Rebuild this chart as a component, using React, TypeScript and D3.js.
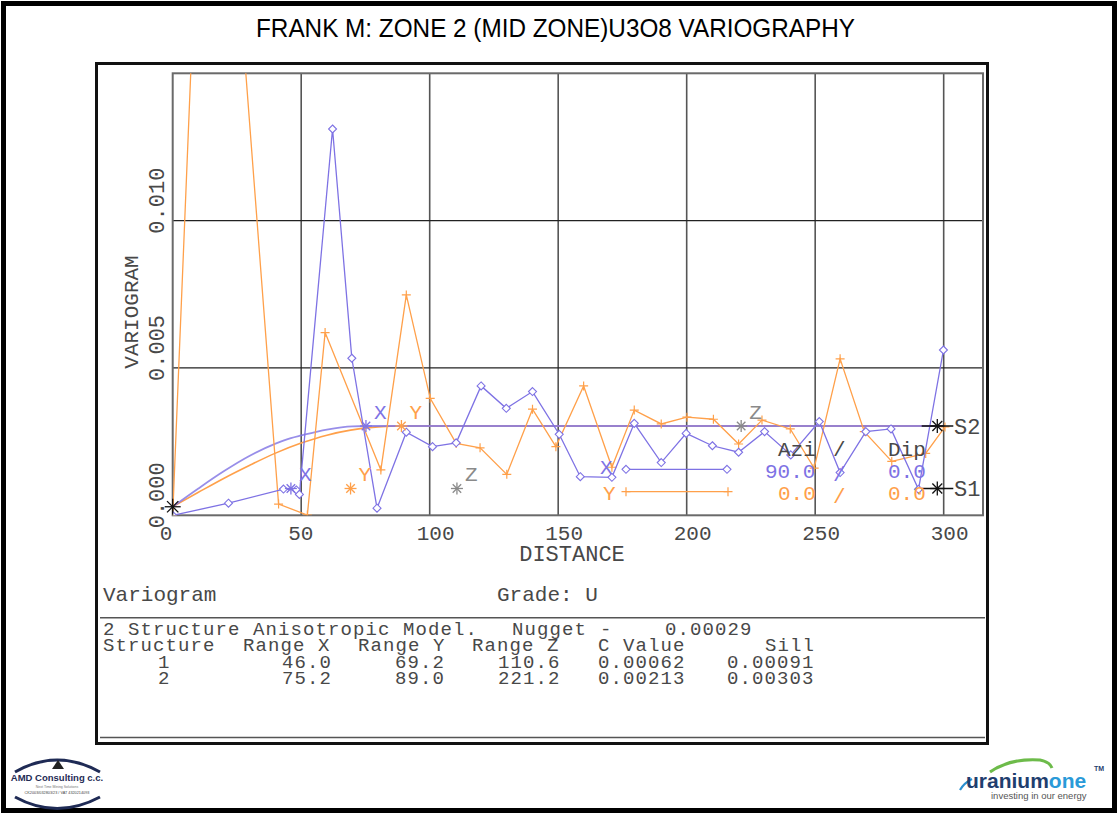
import * as d3 from "d3";

// experimental variogram, direction X (azi 90) - blue diamonds
const blueDist = [0, 21.7, 43.1, 48.1, 49.3, 62.2, 69.7, 79.5, 90.9, 101.1, 110.3, 120, 129.8, 140, 150.4, 158.6, 170.9, 179.6, 190.1, 199.8, 210, 220.2, 230.3, 240.5, 251.6, 259.7, 269.7, 279.5, 290.2, 299.9];
const blueVal = [0, 0.00041, 0.00089, 0.00086, 0.00071, 0.01311, 0.00533, 0.00024, 0.00282, 0.00233, 0.00246, 0.00439, 0.00363, 0.0042, 0.00275, 0.00131, 0.00129, 0.00312, 0.00179, 0.00278, 0.00236, 0.00214, 0.00284, 0.00205, 0.00318, 0.00145, 0.00284, 0.00293, 0.00088, 0.00561];

// experimental variogram, direction Y (azi 0) - orange crosses
const orangeDist = [0, 14.5, 41.2, 52.4, 59.3, 81, 90.9, 100.2, 110.3, 119.6, 130, 140, 149.1, 159.9, 170.9, 179.6, 190.1, 200.1, 210.4, 220.2, 229.3, 240.3, 249.6, 259.7, 269.1, 279.8, 293, 300.5];
const orangeVal = [0, 0.031, 0.00038, 0.00001, 0.0062, 0.00154, 0.00748, 0.00397, 0.00244, 0.00229, 0.00139, 0.0036, 0.00233, 0.00439, 0.00163, 0.00357, 0.0031, 0.00333, 0.00326, 0.00242, 0.00323, 0.00293, 0.0016, 0.00531, 0.00284, 0.00183, 0.0021, 0.003];

// fitted model curves
const modelXDist = [0, 10, 20, 30, 40, 46, 50, 60, 70, 75.2, 300];
const modelXVal = [0.00029, 0.00091, 0.0015, 0.00202, 0.00243, 0.00262, 0.00271, 0.00291, 0.00302, 0.00303, 0.00303];
const modelYDist = [0, 10, 20, 30, 40, 50, 60, 69.2, 80, 89, 300];
const modelYVal = [0.00029, 0.00078, 0.00126, 0.0017, 0.00211, 0.00245, 0.00272, 0.00289, 0.003, 0.00303, 0.00303];

// model parameters
const nugget = 0.00029;
const rangeX = [46.0, 75.2];
const rangeY = [69.2, 89.0];
const rangeZ = [110.6, 221.2];
const cValue = [0.00062, 0.00213];
const sill = [0.00091, 0.00303];

const xTicks = [0, 50, 100, 150, 200, 250, 300];
const yTicks = [0, 0.005, 0.01];

const BLUE = "#7e72e4";
const ORANGE = "#ffa04a";
const GRAY = "#8a8a8a";
const TXT = "#484848";
const MONO = "'Liberation Mono', 'DejaVu Sans Mono', monospace";
const SANS = "'Liberation Sans', Arial, sans-serif";

const diamond = "M0,-4L4,0L0,4L-4,0Z";
const plus = "M-4.5,0H4.5M0,-4.5V4.5";

const Star = ({ cx, cy, r, color }: { cx: number; cy: number; r: number; color: string }) => (
  <g transform={`translate(${cx},${cy})`} stroke={color} strokeWidth={1.3}>
    {[0, 45, 90, 135].map((a) => {
      const dx = Math.cos((a * Math.PI) / 180) * r;
      const dy = Math.sin((a * Math.PI) / 180) * r;
      return <line key={a} x1={-dx} y1={-dy} x2={dx} y2={dy} />;
    })}
  </g>
);

export default function App() {
  const x = d3.scaleLinear().domain([0, 315.3]).range([172.7, 983]);
  const y = d3.scaleLinear().domain([0, 0.015]).range([515.3, 73.3]);

  const line = d3.line<[number, number]>().x((d) => x(d[0])).y((d) => y(d[1]));
  const smooth = d3.line<[number, number]>().x((d) => x(d[0])).y((d) => y(d[1])).curve(d3.curveMonotoneX);

  const bluePts = blueDist.map((d, i) => [d, blueVal[i]] as [number, number]);
  const orangePts = orangeDist.map((d, i) => [d, orangeVal[i]] as [number, number]);
  const modelX = modelXDist.map((d, i) => [d, modelXVal[i]] as [number, number]);
  const modelY = modelYDist.map((d, i) => [d, modelYVal[i]] as [number, number]);

  const [x0, x1] = x.range();
  const [y0, y1] = y.range();
  const fmt = d3.format(".3f");

  const sText = (s: string, px: number, py: number, color = TXT, size = 21) => (
    <text x={px} y={py} fill={color} fontFamily={MONO} fontSize={size}>
      {s}
    </text>
  );
  // table rows: slightly smaller glyphs, same advance
  const tText = (s: string, px: number, py: number) => (
    <text x={px} y={py} fill={TXT} fontFamily={MONO} fontSize={19} letterSpacing={1.1}>
      {s}
    </text>
  );

  return (
    <svg width={1119} height={815} style={{ position: "absolute", left: 0, top: 0, background: "#fff" }}>
      <defs>
        <clipPath id="plotClip">
          <rect x={x0} y={y1} width={x1 - x0} height={y0 - y1} />
        </clipPath>
      </defs>
      <rect x={0} y={0} width={1119} height={815} fill="#fff" />
      <rect x={3.5} y={3.5} width={1111} height={807} fill="none" stroke="#000" strokeWidth={5} />

      <text x={555.5} y={37} textAnchor="middle" fontFamily="'Liberation Sans Narrow', 'Liberation Sans', Arial, sans-serif" fontSize={25} textLength={599} lengthAdjust="spacingAndGlyphs" fill="#000">
        FRANK M: ZONE 2 (MID ZONE)U3O8 VARIOGRAPHY
      </text>

      {/* chart box */}
      <rect x={96.5} y={63.5} width={891} height={680} fill="none" stroke="#111" strokeWidth={3} />

      {/* grid */}
      {xTicks.filter((t) => t > 0).map((t) => (
        <line key={t} x1={x(t)} x2={x(t)} y1={y1} y2={y0} stroke="#555" strokeWidth={1.6} />
      ))}
      {yTicks.filter((t) => t > 0).map((t) => (
        <line key={t} x1={x0} x2={x1} y1={y(t)} y2={y(t)} stroke="#222" strokeWidth={1.3} />
      ))}
      <rect x={x0} y={y1} width={x1 - x0} height={y0 - y1} fill="none" stroke="#6a6a6a" strokeWidth={2} />

      {/* axis labels */}
      {xTicks.map((t) => (
        <text key={t} x={x(t) - 13} y={540} fill={TXT} fontFamily={MONO} fontSize={21}>
          {t}
        </text>
      ))}
      {yTicks.map((t) => (
        <text key={t} transform={`translate(164,${y(t) + 13}) rotate(-90)`} fill={TXT} fontFamily={MONO} fontSize={22}>
          {fmt(t)}
        </text>
      ))}
      <text transform="translate(138,312) rotate(-90)" textAnchor="middle" fill={TXT} fontFamily={MONO} fontSize={21}>
        VARIOGRAM
      </text>
      <text x={572} y={561} textAnchor="middle" fill={TXT} fontFamily={MONO} fontSize={22}>
        DISTANCE
      </text>

      {/* model curves */}
      <path d={smooth(modelY) ?? ""} fill="none" stroke={ORANGE} strokeWidth={1.6} />
      <path d={smooth(modelX) ?? ""} fill="none" stroke={BLUE} strokeOpacity={0.8} strokeWidth={1.8} />

      {/* experimental variograms */}
      <g clipPath="url(#plotClip)">
        <path d={line(orangePts) ?? ""} fill="none" stroke={ORANGE} strokeWidth={1.3} />
        {orangePts.map((p, i) => (
          <path key={i} d={plus} transform={`translate(${x(p[0])},${y(p[1])})`} stroke={ORANGE} strokeWidth={1.2} />
        ))}
        <path d={line(bluePts) ?? ""} fill="none" stroke={BLUE} strokeWidth={1.3} />
        {bluePts.map((p, i) => (
          <path key={i} d={diamond} transform={`translate(${x(p[0])},${y(p[1])})`} fill="#fff" stroke={BLUE} strokeWidth={1.1} />
        ))}
      </g>

      {/* structure range markers */}
      {rangeX.map((r, i) => (
        <g key={"rx" + i}>
          <Star cx={x(r)} cy={y(sill[i])} r={6} color={BLUE} />
          {sText("X", x(r) + 8, y(sill[i]) - 7, BLUE)}
        </g>
      ))}
      {rangeY.map((r, i) => (
        <g key={"ry" + i}>
          <Star cx={x(r)} cy={y(sill[i])} r={6} color={ORANGE} />
          {sText("Y", x(r) + 8, y(sill[i]) - 7, ORANGE)}
        </g>
      ))}
      {rangeZ.map((r, i) => (
        <g key={"rz" + i}>
          <Star cx={x(r)} cy={y(sill[i])} r={6} color={GRAY} />
          {sText("Z", x(r) + 8, y(sill[i]) - 7, GRAY)}
        </g>
      ))}
      <Star cx={x(0)} cy={y(nugget)} r={8} color="#111" />

      {/* sill markers S1/S2 */}
      {sill.map((s, i) => (
        <g key={"s" + i}>
          <line x1={921.7} x2={953.3} y1={y(s)} y2={y(s)} stroke="#111" strokeWidth={1.5} />
          <Star cx={937.3} cy={y(s)} r={7} color="#111" />
          {sText("S" + (i + 1), 954, y(s) + 8, TXT, 22)}
        </g>
      ))}

      {/* direction legend */}
      <line x1={626} x2={727} y1={469.3} y2={469.3} stroke={BLUE} strokeWidth={1.3} />
      <path d={diamond} transform="translate(626,469.3)" fill="#fff" stroke={BLUE} strokeWidth={1.1} />
      <path d={diamond} transform="translate(727,469.3)" fill="#fff" stroke={BLUE} strokeWidth={1.1} />
      {sText("X", 600, 474, BLUE)}
      <line x1={626} x2={728} y1={491.7} y2={491.7} stroke={ORANGE} strokeWidth={1.3} />
      <path d={plus} transform="translate(626,491.7)" stroke={ORANGE} strokeWidth={1.2} />
      <path d={plus} transform="translate(728,491.7)" stroke={ORANGE} strokeWidth={1.2} />
      {sText("Y", 603, 500, ORANGE)}

      {sText("Azi", 778, 456)}
      {sText("/", 833, 456)}
      {sText("Dip", 888, 456)}
      {sText("90.0", 765, 478, BLUE)}
      {sText("/", 833, 481, BLUE)}
      {sText("0.0", 888, 478, BLUE)}
      {sText("0.0", 778, 500, ORANGE)}
      {sText("/", 833, 503, ORANGE)}
      {sText("0.0", 888, 500, ORANGE)}

      {/* model table */}
      {sText("Variogram", 103, 601)}
      {sText("Grade: U", 497, 601)}
      <line x1={100} x2={985} y1={617.7} y2={617.7} stroke="#555" strokeWidth={1.5} />
      {tText("2 Structure Anisotropic Model.", 103, 635)}
      {tText("Nugget", 512, 635)}
      {tText("-", 600, 635)}
      {tText(nugget.toFixed(5), 665, 635)}
      {tText("Structure", 103, 651)}
      {tText("Range X", 243, 651)}
      {tText("Range Y", 358, 651)}
      {tText("Range Z", 472, 651)}
      {tText("C Value", 598, 651)}
      {tText("Sill", 765, 651)}
      {[0, 1].map((i) => (
        <g key={"row" + i}>
          {tText(String(i + 1), 158, 668 + i * 16)}
          {tText(rangeX[i].toFixed(1), 282, 668 + i * 16)}
          {tText(rangeY[i].toFixed(1), 395, 668 + i * 16)}
          {tText(rangeZ[i].toFixed(1), 498, 668 + i * 16)}
          {tText(cValue[i].toFixed(5), 598, 668 + i * 16)}
          {tText(sill[i].toFixed(5), 727, 668 + i * 16)}
        </g>
      ))}
      <line x1={100} x2={985} y1={737.5} y2={737.5} stroke="#555" strokeWidth={1.5} />

      {/* AMD Consulting logo */}
      <g>
        <path d="M15,772 Q57,748 100,772" fill="none" stroke="#1f2b55" strokeWidth={3} />
        <path d="M52,769 L58,760 L64,769 Z" fill="#222" />
        <text x={57} y={781} textAnchor="middle" fontFamily={SANS} fontWeight="bold" fontSize={9.5} fill="#1f2b55">
          AMD Consulting c.c.
        </text>
        <text x={57} y={788} textAnchor="middle" fontFamily={SANS} fontSize={3.5} fill="#777">
          Next Time Mining Solutions
        </text>
        <text x={57} y={794} textAnchor="middle" fontFamily={SANS} fontSize={3.8} fill="#444">
          CK2003/032803/23 / VAT 4320214093
        </text>
        <path d="M15,797 Q57,820 100,797" fill="none" stroke="#1f2b55" strokeWidth={3} />
      </g>

      {/* uranium one logo */}
      <g>
        <path d="M990,772 Q1010,758 1040,760 Q1050,762 1052,768" fill="none" stroke="#6dbb4a" strokeWidth={3} />
        <path d="M960,790 Q964,783 972,779" fill="none" stroke="#2a8fd0" strokeWidth={2.2} />
        <text x={966} y={788} fontFamily={SANS} fontWeight="bold" fontSize={21} fill="#1f3e6e">
          uranium
          <tspan fill="#2a9ad8">one</tspan>
        </text>
        <text x={1094} y={771} fontFamily={SANS} fontWeight="bold" fontSize={7} fill="#1f3e6e">
          TM
        </text>
        <text x={991} y={799} fontFamily={SANS} fontSize={9.5} fill="#555">
          investing in our energy
        </text>
      </g>
    </svg>
  );
}
